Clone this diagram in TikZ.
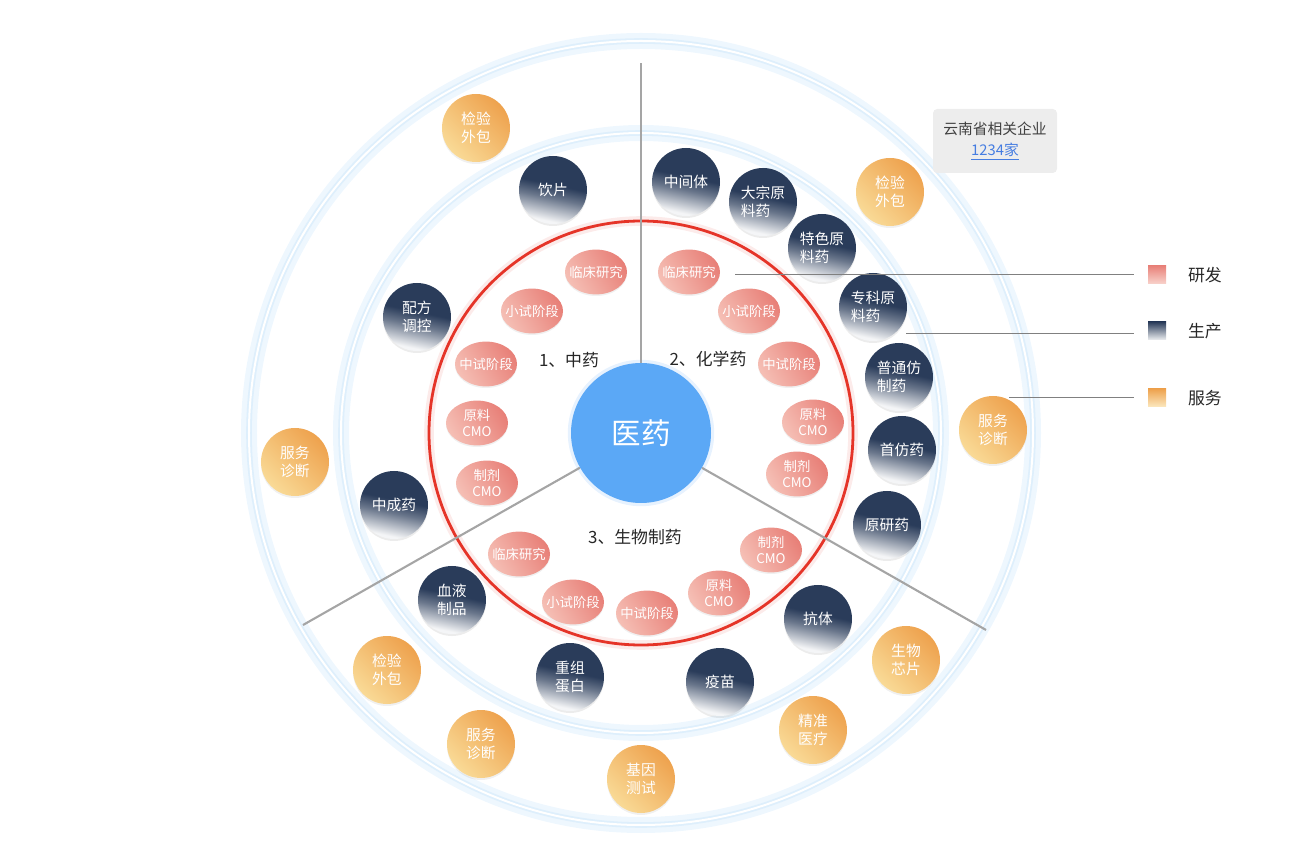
\documentclass[tikz,border=0pt]{standalone}
\usepackage{fontspec}
\setmainfont{Noto Sans CJK SC}
\usetikzlibrary{positioning,shapes.geometric,shadows}

\definecolor{pdnavy}{RGB}{42,60,90}
\definecolor{rddark}{RGB}{232,128,120}
\definecolor{rdlight}{RGB}{245,190,180}
\definecolor{svdark}{RGB}{238,162,78}
\definecolor{svlight}{RGB}{249,218,150}
\definecolor{ctrblue}{RGB}{91,168,246}
\definecolor{redring}{RGB}{229,52,40}
\definecolor{ringglow}{RGB}{238,247,254}
\definecolor{ringcore}{RGB}{222,239,252}
\definecolor{divgray}{RGB}{165,165,165}
\definecolor{linkblue}{RGB}{70,125,225}
\pgfdeclareverticalshading{pdshade}{100bp}{color(0bp)=(pdnavy!5); color(27bp)=(pdnavy!5);
  color(44bp)=(pdnavy!70); color(54bp)=(pdnavy); color(100bp)=(pdnavy)}

\begin{document}
\begin{tikzpicture}[
    rdball/.style={ellipse, minimum width=1.55cm, minimum height=1.12cm, inner sep=-0.15cm,
      align=center, text=white, font=\fontsize{9.5}{11.5}\selectfont,
      top color=rddark, bottom color=rdlight, shading angle=-60,
      drop shadow={shadow xshift=0pt, shadow yshift=-0.04cm, opacity=0.12}},
    pdball/.style={circle, minimum size=1.7cm, inner sep=0pt, align=center, text=white,
      font=\fontsize{10.5}{13}\selectfont, shading=pdshade, shading angle=-12,
      drop shadow={shadow xshift=0pt, shadow yshift=-0.05cm, opacity=0.15}},
    svball/.style={circle, minimum size=1.7cm, inner sep=0pt, align=center, text=white,
      font=\fontsize{10.5}{13}\selectfont,
      top color=svdark, bottom color=svlight, shading angle=-45,
      drop shadow={shadow xshift=0pt, shadow yshift=-0.05cm, opacity=0.12}},
    sector/.style={text=black!85, font=\fontsize{12}{14}\selectfont},
    divline/.style={divgray, line width=1.5pt},
    legline/.style={black!50, line width=0.6pt, shorten >=0.35cm},
    lgsq/.style={minimum size=0.45cm, inner sep=0pt},
    lgtext/.style={text=black!85, font=\fontsize{12}{14}\selectfont}]
  \useasboundingbox (-16.025,-10.775) rectangle (16.225,10.825);

  % rings
  \draw[line width=0.4cm, ringglow] (0,0) circle (9.8);
  \draw[line width=0.14cm, ringcore] (0,0) circle (9.8);
  \draw[line width=0.05cm, white] (0,0) circle (9.8);
  \draw[line width=0.4cm, ringglow] (0,0) circle (7.5);
  \draw[line width=0.14cm, ringcore] (0,0) circle (7.5);
  \draw[line width=0.05cm, white] (0,0) circle (7.5);
  \draw[line width=0.24cm, redring!10] (0,0) circle (5.3);
  \draw[line width=0.07cm, redring] (0,0) circle (5.3);

  % centre and dividers
  \fill[ctrblue!15] (0,0) circle (1.83);
  \node[circle, minimum size=3.5cm, fill=ctrblue, text=white, font=\fontsize{21}{24}\selectfont] (yy) at (0,0) {医药};
  \coordinate (e1) at (0,9.25);
  \coordinate (e2) at (-8.45,-4.8);
  \coordinate (e3) at (8.625,-4.925);
  \draw[divline] (yy) -- (e1);
  \draw[divline] (yy) -- (e2);
  \draw[divline] (yy) -- (e3);

  \node[sector] (t1) at (-1.8,1.825) {1、中药};
  \node[sector] (t2) at (1.675,1.85) {2、化学药};
  \node[sector] (t3) at (-0.15,-2.6) {3、生物制药};

  % research
  \node[rdball] (r1a) at (-1.125,4.025) {临床研究};
  \node[rdball] (r1b) at (-2.725,3.05) {小试阶段};
  \node[rdball] (r1c) at (-3.875,1.725) {中试阶段};
  \node[rdball] (r1d) at (-4.1,0.25) {原料\\CMO};
  \node[rdball] (r1e) at (-3.85,-1.25) {制剂\\CMO};
  \node[rdball] (r2a) at (1.2,4.025) {临床研究};
  \node[rdball] (r2b) at (2.7,3.05) {小试阶段};
  \node[rdball] (r2c) at (3.7,1.725) {中试阶段};
  \node[rdball] (r2d) at (4.3,0.275) {原料\\CMO};
  \node[rdball] (r2e) at (3.9,-1.025) {制剂\\CMO};
  \node[rdball] (r3a) at (-3.05,-3.025) {临床研究};
  \node[rdball] (r3b) at (-1.7,-4.225) {小试阶段};
  \node[rdball] (r3c) at (0.15,-4.5) {中试阶段};
  \node[rdball] (r3d) at (1.95,-4.0) {原料\\CMO};
  \node[rdball] (r3e) at (3.25,-2.925) {制剂\\CMO};

  % production
  \node[pdball] (p1a) at (-2.2,6.075) {饮片};
  \node[pdball] (p1b) at (-5.6,2.9) {配方\\调控};
  \node[pdball] (p1c) at (-6.175,-1.8) {中成药};
  \node[pdball] (p2a) at (1.125,6.275) {中间体};
  \node[pdball, align=left] (p2b) at (3.05,5.775) {大宗原\\料药};
  \node[pdball, align=left] (p2c) at (4.525,4.625) {特色原\\料药};
  \node[pdball, align=left] (p2d) at (5.8,3.15) {专科原\\料药};
  \node[pdball, align=left] (p2e) at (6.45,1.4) {普通仿\\制药};
  \node[pdball] (p2f) at (6.525,-0.425) {首仿药};
  \node[pdball] (p2g) at (6.15,-2.3) {原研药};
  \node[pdball] (p3a) at (-4.725,-4.175) {血液\\制品};
  \node[pdball] (p3b) at (-1.775,-6.1) {重组\\蛋白};
  \node[pdball] (p3c) at (1.975,-6.225) {疫苗};
  \node[pdball] (p3d) at (4.425,-4.65) {抗体};

  % services
  \node[svball] (s1) at (-4.125,7.625) {检验\\外包};
  \node[svball] (s2) at (6.225,6.025) {检验\\外包};
  \node[svball] (s3) at (8.8,0.075) {服务\\诊断};
  \node[svball] (s4) at (-8.65,-0.725) {服务\\诊断};
  \node[svball] (s5) at (-6.35,-5.925) {检验\\外包};
  \node[svball] (s6) at (-4.0,-7.775) {服务\\诊断};
  \node[svball] (s7) at (0,-8.65) {基因\\测试};
  \node[svball] (s8) at (4.3,-7.425) {精准\\医疗};
  \node[svball] (s9) at (6.625,-5.675) {生物\\芯片};

  % info box
  \node[fill=black!7, rounded corners=3pt, minimum width=3.1cm, minimum height=1.6cm, align=center,
    text=black!75, font=\fontsize{10.5}{15}\selectfont] (qy) at (8.85,7.3)
    {云南省相关企业\\\textcolor{linkblue}{\underline{1234家}}};

  % legend
  \node[lgsq, top color=rddark, bottom color=rdlight!70] (lgR) at (12.9,3.96) {};
  \node[lgsq, top color=pdnavy, bottom color=pdnavy!8] (lgP) at (12.9,2.55) {};
  \node[lgsq, top color=svdark, bottom color=svlight!60] (lgS) at (12.9,0.875) {};
  \node[lgtext, right=0.42cm of lgR] (lbR) {研发};
  \node[lgtext, right=0.42cm of lgP] (lbP) {生产};
  \node[lgtext, right=0.42cm of lgS] (lbS) {服务};
  \coordinate (k1) at (2.35,3.975);
  \coordinate (k2) at (6.625,2.5);
  \coordinate (k3) at (9.2,0.9);
  \draw[legline] (k1) -- (k1 -| lgR.west);
  \draw[legline] (k2) -- (k2 -| lgP.west);
  \draw[legline] (k3) -- (k3 -| lgS.west);
\end{tikzpicture}
\end{document}
